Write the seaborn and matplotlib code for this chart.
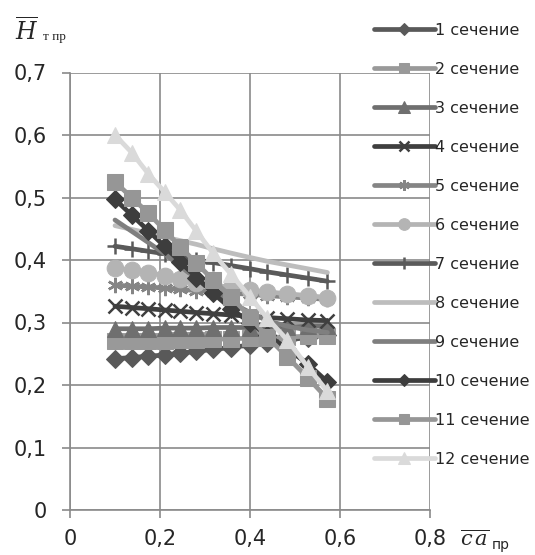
import matplotlib
matplotlib.use("Agg")
import matplotlib.pyplot as plt
import seaborn as sns

# relative concentration (x axis), same points for every section
x_vals = [0.100, 0.137, 0.174, 0.210, 0.245, 0.281, 0.318, 0.358, 0.400, 0.438, 0.483, 0.528, 0.572]

s1 = [0.242, 0.244, 0.246, 0.248, 0.251, 0.254, 0.257, 0.260, 0.264, 0.268, 0.272, 0.276, 0.280]
s2 = [0.270, 0.270, 0.271, 0.271, 0.272, 0.272, 0.273, 0.274, 0.275, 0.276, 0.277, 0.278, 0.279]
s3 = [0.290, 0.290, 0.290, 0.291, 0.291, 0.291, 0.292, 0.292, 0.292, 0.293, 0.293, 0.294, 0.294]
s4 = [0.326, 0.324, 0.322, 0.320, 0.318, 0.316, 0.314, 0.312, 0.310, 0.308, 0.306, 0.304, 0.303]
s5 = [0.360, 0.358, 0.357, 0.355, 0.353, 0.351, 0.349, 0.347, 0.345, 0.343, 0.341, 0.339, 0.337]
s6 = [0.387, 0.384, 0.380, 0.375, 0.369, 0.364, 0.360, 0.356, 0.352, 0.349, 0.346, 0.343, 0.340]
s7 = [0.422, 0.418, 0.414, 0.410, 0.405, 0.400, 0.396, 0.391, 0.386, 0.381, 0.376, 0.371, 0.366]
s8 = [0.455, 0.449, 0.443, 0.437, 0.431, 0.425, 0.418, 0.411, 0.404, 0.398, 0.392, 0.386, 0.380]
s9 = [0.464, 0.446, 0.428, 0.410, 0.390, 0.370, 0.350, 0.332, 0.316, 0.303, 0.294, 0.288, 0.284]
s10 = [0.497, 0.472, 0.447, 0.422, 0.397, 0.372, 0.347, 0.322, 0.300, 0.280, 0.258, 0.234, 0.205]
s11 = [0.525, 0.500, 0.475, 0.448, 0.421, 0.395, 0.368, 0.341, 0.309, 0.277, 0.245, 0.212, 0.178]
s12 = [0.600, 0.572, 0.538, 0.509, 0.480, 0.446, 0.411, 0.377, 0.341, 0.307, 0.272, 0.229, 0.190]

labels = [f"{i} сечение" for i in range(1, 13)]
series = [s1, s2, s3, s4, s5, s6, s7, s8, s9, s10, s11, s12]

y_ticks = [0, 0.1, 0.2, 0.3, 0.4, 0.5, 0.6, 0.7]
y_tick_labels = ["0", "0,1", "0,2", "0,3", "0,4", "0,5", "0,6", "0,7"]
x_ticks = [0, 0.2, 0.4, 0.6, 0.8]
x_tick_labels = ["0", "0,2", "0,4", "0,6", "0,8"]

colors = ["#595959", "#999999", "#6f6f6f", "#3f3f3f", "#858585", "#b4b4b4",
          "#5a5a5a", "#bdbdbd", "#7f7f7f", "#3d3d3d", "#969696", "#dadada"]
markers = ["D", "s", "^", "x", (6, 2, 0), "o", "+", None, None, "D", "s", "^"]
msizes = [9, 11, 12, 10, 11, 12, 12, 0, 0, 9, 11, 12]

sns.set_style("white")
plt.rcParams["font.family"] = ["DejaVu Sans"]
plt.rcParams["mathtext.fontset"] = "dejavuserif"

fig = plt.figure(figsize=(5.35, 5.55), dpi=100)
ax = fig.add_axes([70 / 535, 1 - 510 / 555, 360 / 535, 437.5 / 555])

for y, lab, c, m, ms in zip(series, labels, colors, markers, msizes):
    kw = dict(marker=m, markersize=ms, markeredgecolor=c, markerfacecolor=c)
    if m in ("x", "+") or isinstance(m, tuple):
        kw["markeredgewidth"] = 1.8
    sns.lineplot(x=x_vals, y=y, ax=ax, color=c, linewidth=3.4, label=lab,
                 sort=False, legend=False, **kw)

ax.set_xlim(0, 0.8)
ax.set_ylim(0, 0.7)
ax.set_xticks(x_ticks)
ax.set_xticklabels(x_tick_labels)
ax.set_yticks(y_ticks)
ax.set_yticklabels(y_tick_labels)
ax.grid(True, color="#8a8a8a", linewidth=1.2)
ax.set_axisbelow(True)
for side in ["top", "right"]:
    ax.spines[side].set_visible(False)
for side in ["left", "bottom"]:
    ax.spines[side].set_color("#8a8a8a")
    ax.spines[side].set_linewidth(1.2)
ax.tick_params(axis="both", which="major", labelsize=15, color="#8a8a8a",
               direction="out", length=6, width=1.2, bottom=True, left=True)
ax.tick_params(axis="y", pad=10.5)
ax.tick_params(axis="x", pad=8)

handles, labs = ax.get_legend_handles_labels()
fig.legend(handles, labs, loc="upper left", bbox_to_anchor=(374 / 535, 1 - 23 / 555),
           frameon=False, fontsize=11.5, handlelength=3.8, handletextpad=0.05,
           labelspacing=1.5, borderpad=0, borderaxespad=0, numpoints=1,
           markerscale=0.7)

# axis captions
fig.text(15 / 535, 1 - 32 / 555, r"$\overline{H}$", fontsize=17, va="center")
fig.text(43 / 535, 1 - 37 / 555, "т пр", fontsize=9.5, va="center",
         family=["Liberation Serif", "DejaVu Serif"])
fig.text(460 / 535, 1 - 540 / 555, r"$\overline{c\,a}$", fontsize=15, va="center")
fig.text(492 / 535, 1 - 545 / 555, "пр", fontsize=10, va="center")

fig.savefig("out.png", dpi=100)
